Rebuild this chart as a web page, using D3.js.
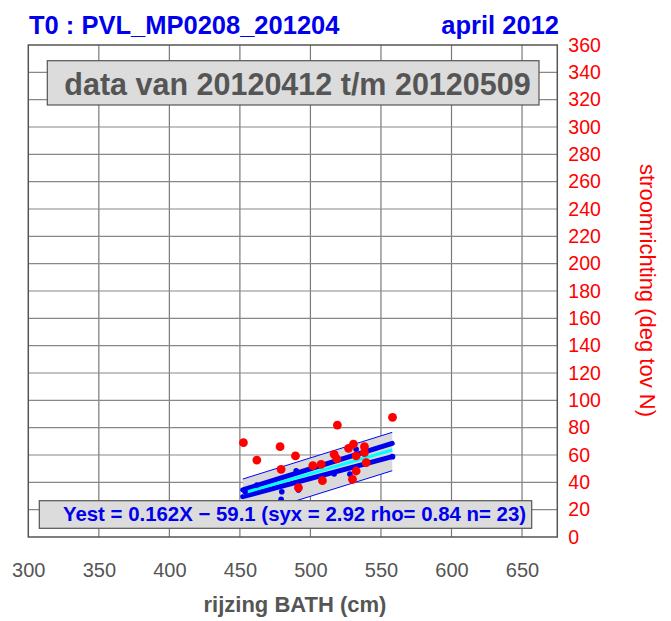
<!doctype html>
<html>
  <head>
    <meta charset="utf-8"/>
    <style>
      body { margin: 0; background: #fff; }
      text { font-family: "Liberation Sans", Arial, sans-serif; }
    </style>
  </head>
  <body>
    <script src="https://cdn.jsdelivr.net/npm/d3@7/dist/d3.min.js"></script>
    <script>

      // tick values
      const xTicks = [300, 350, 400, 450, 500, 550, 600, 650];
      const yTicks = d3.range(0, 361, 20);

      // observed points (rijzing BATH, stroomrichting)
      const redX = [452.5, 462, 478.5, 479.2, 489.4, 491.5, 501.7, 507.6, 508.5, 519.1, 516.8, 518.7,
                    527, 530.5, 532.4, 532.4, 529.8, 538.3, 538.3, 539.5, 558.2, 477.3, 479.7];
      const redY = [69, 56.3, 66.1, 49.5, 59.3, 36.1, 52.2, 53.2, 41.2, 81.9, 60.5, 57.1,
                    64.9, 68, 59.3, 48.3, 42.2, 66.1, 61.7, 54.4, 87.6, 21.7, 22.2];

      // small blue points
      const blueX = [453.7, 462, 479.7, 479.2, 489.9, 491.5, 516.8, 528, 532.4, 558.2];
      const blueY = [33.1, 38, 33.1, 27.6, 48.5, 34.4, 46.1, 46, 64.2, 58.8];

      // fit lines, start and end
      const fitX = [452, 558];
      const bandTop = [42.4, 76.6];
      const bandBottom = [14.3, 48.5];
      const upperFit = [34.4, 68.5];
      const midFit = [32.0, 63.7];
      const lowerFit = [29.5, 58.8];

      const header = 'T0 : PVL_MP0208_201204';
      const month = 'april 2012';
      const period = 'data van 20120412 t/m 20120509';
      const equation = 'Yest = 0.162X \u2212 59.1 (syx = 2.92 rho= 0.84 n= 23)';

      const W = 671, H = 621;
      const x = d3.scaleLinear().domain([300, 675]).range([28.3, 557.3]);
      const y = d3.scaleLinear().domain([0, 360]).range([537, 45]);

      const svg = d3.select('body').append('svg')
            .attr('width', W)
            .attr('height', H);

      // grid
      svg.append('g')
        .selectAll('line')
        .data(xTicks.slice(1))
        .join('line')
        .attr('x1', d => x(d)).attr('x2', d => x(d))
        .attr('y1', y(0)).attr('y2', y(360))
        .attr('stroke', '#7a7a7a')
        .attr('stroke-width', 1.2);

      svg.append('g')
        .selectAll('line')
        .data(yTicks.slice(1, -1))
        .join('line')
        .attr('x1', x(300)).attr('x2', x(675))
        .attr('y1', d => y(d)).attr('y2', d => y(d))
        .attr('stroke', '#888')
        .attr('stroke-width', 1.2);

      svg.append('rect')
        .attr('x', x(300)).attr('y', y(360))
        .attr('width', x(675) - x(300))
        .attr('height', y(0) - y(360))
        .attr('fill', 'none')
        .attr('stroke', '#555')
        .attr('stroke-width', 1.5);

      // axes
      const xAxis = svg.append('g')
            .attr('transform', `translate(0,${y(0)})`)
            .call(d3.axisBottom(x).tickValues(xTicks).tickSize(0).tickPadding(26));
      xAxis.select('.domain').remove();
      xAxis.selectAll('text')
        .attr('fill', '#555')
        .style('font-size', '20px');

      const yAxis = svg.append('g')
            .attr('transform', `translate(${x(675)},0)`)
            .call(d3.axisRight(y).tickValues(yTicks).tickSize(0).tickPadding(11));
      yAxis.select('.domain').remove();
      yAxis.selectAll('text')
        .attr('fill', '#ff0000')
        .style('font-size', '19.5px');

      // band and fit lines
      const band = fitX.map((d, i) => [d, bandTop[i], bandBottom[i]]);
      svg.append('path')
        .datum(band)
        .attr('d', d3.area().x(d => x(d[0])).y0(d => y(d[2])).y1(d => y(d[1])))
        .attr('fill', '#d9d9d9');

      const line = d3.line().x(d => x(d[0])).y(d => y(d[1]));
      const pairs = arr => fitX.map((d, i) => [d, arr[i]]);

      [bandTop, bandBottom].forEach(arr => {
        svg.append('path')
          .datum(pairs(arr))
          .attr('d', line)
          .attr('fill', 'none')
          .attr('stroke', '#0000ff')
          .attr('stroke-width', 1);
      });

      [upperFit, lowerFit].forEach(arr => {
        svg.append('path')
          .datum(pairs(arr))
          .attr('d', line)
          .attr('fill', 'none')
          .attr('stroke', '#0000ee')
          .attr('stroke-width', 5)
          .attr('stroke-linecap', 'round');
      });

      svg.append('path')
        .datum(pairs(midFit))
        .attr('d', line)
        .attr('fill', 'none')
        .attr('stroke', '#00ffff')
        .attr('stroke-width', 3);

      svg.append('g')
        .selectAll('circle')
        .data(blueX.map((d, i) => [d, blueY[i]]))
        .join('circle')
        .attr('cx', d => x(d[0]))
        .attr('cy', d => y(d[1]))
        .attr('r', 2.8)
        .attr('fill', '#0000ee');

      svg.append('g')
        .selectAll('circle')
        .data(redX.map((d, i) => [d, redY[i]]))
        .join('circle')
        .attr('cx', d => x(d[0]))
        .attr('cy', d => y(d[1]))
        .attr('r', 4.4)
        .attr('fill', '#ff0000');

      // period box
      svg.append('rect')
        .attr('x', 47.3).attr('y', 60.7)
        .attr('width', 491.7).attr('height', 44.3)
        .attr('fill', '#dcdcdc')
        .attr('stroke', '#555')
        .attr('stroke-width', 1.2);
      svg.append('text')
        .attr('x', 297.5).attr('y', 95)
        .attr('text-anchor', 'middle')
        .attr('fill', '#555')
        .style('font-size', '30.5px')
        .style('font-weight', 'bold')
        .text(period);

      // equation box
      svg.append('rect')
        .attr('x', 39.3).attr('y', 500.7)
        .attr('width', 492.4).attr('height', 27.6)
        .attr('fill', '#dcdcdc')
        .attr('stroke', '#555')
        .attr('stroke-width', 1.2);
      svg.append('text')
        .attr('x', 294.5).attr('y', 521)
        .attr('text-anchor', 'middle')
        .attr('fill', '#0000ee')
        .style('font-size', '20.4px')
        .style('font-weight', 'bold')
        .text(equation);

      // titles
      svg.append('text')
        .attr('x', 29).attr('y', 34)
        .attr('fill', '#0000ee')
        .style('font-size', '25.5px')
        .style('font-weight', 'bold')
        .text(header);
      svg.append('text')
        .attr('x', 559).attr('y', 34)
        .attr('text-anchor', 'end')
        .attr('fill', '#0000ee')
        .style('font-size', '25.5px')
        .style('font-weight', 'bold')
        .text(month);

      svg.append('text')
        .attr('x', 295).attr('y', 612)
        .attr('text-anchor', 'middle')
        .attr('fill', '#555')
        .style('font-size', '22px')
        .style('font-weight', 'bold')
        .text('rijzing BATH (cm)');

      svg.append('text')
        .attr('transform', 'translate(639.5,290.5) rotate(90)')
        .attr('text-anchor', 'middle')
        .attr('fill', '#ff0000')
        .style('font-size', '22px')
        .text('stroomrichting (deg tov N)');
    </script>
  </body>
</html>
